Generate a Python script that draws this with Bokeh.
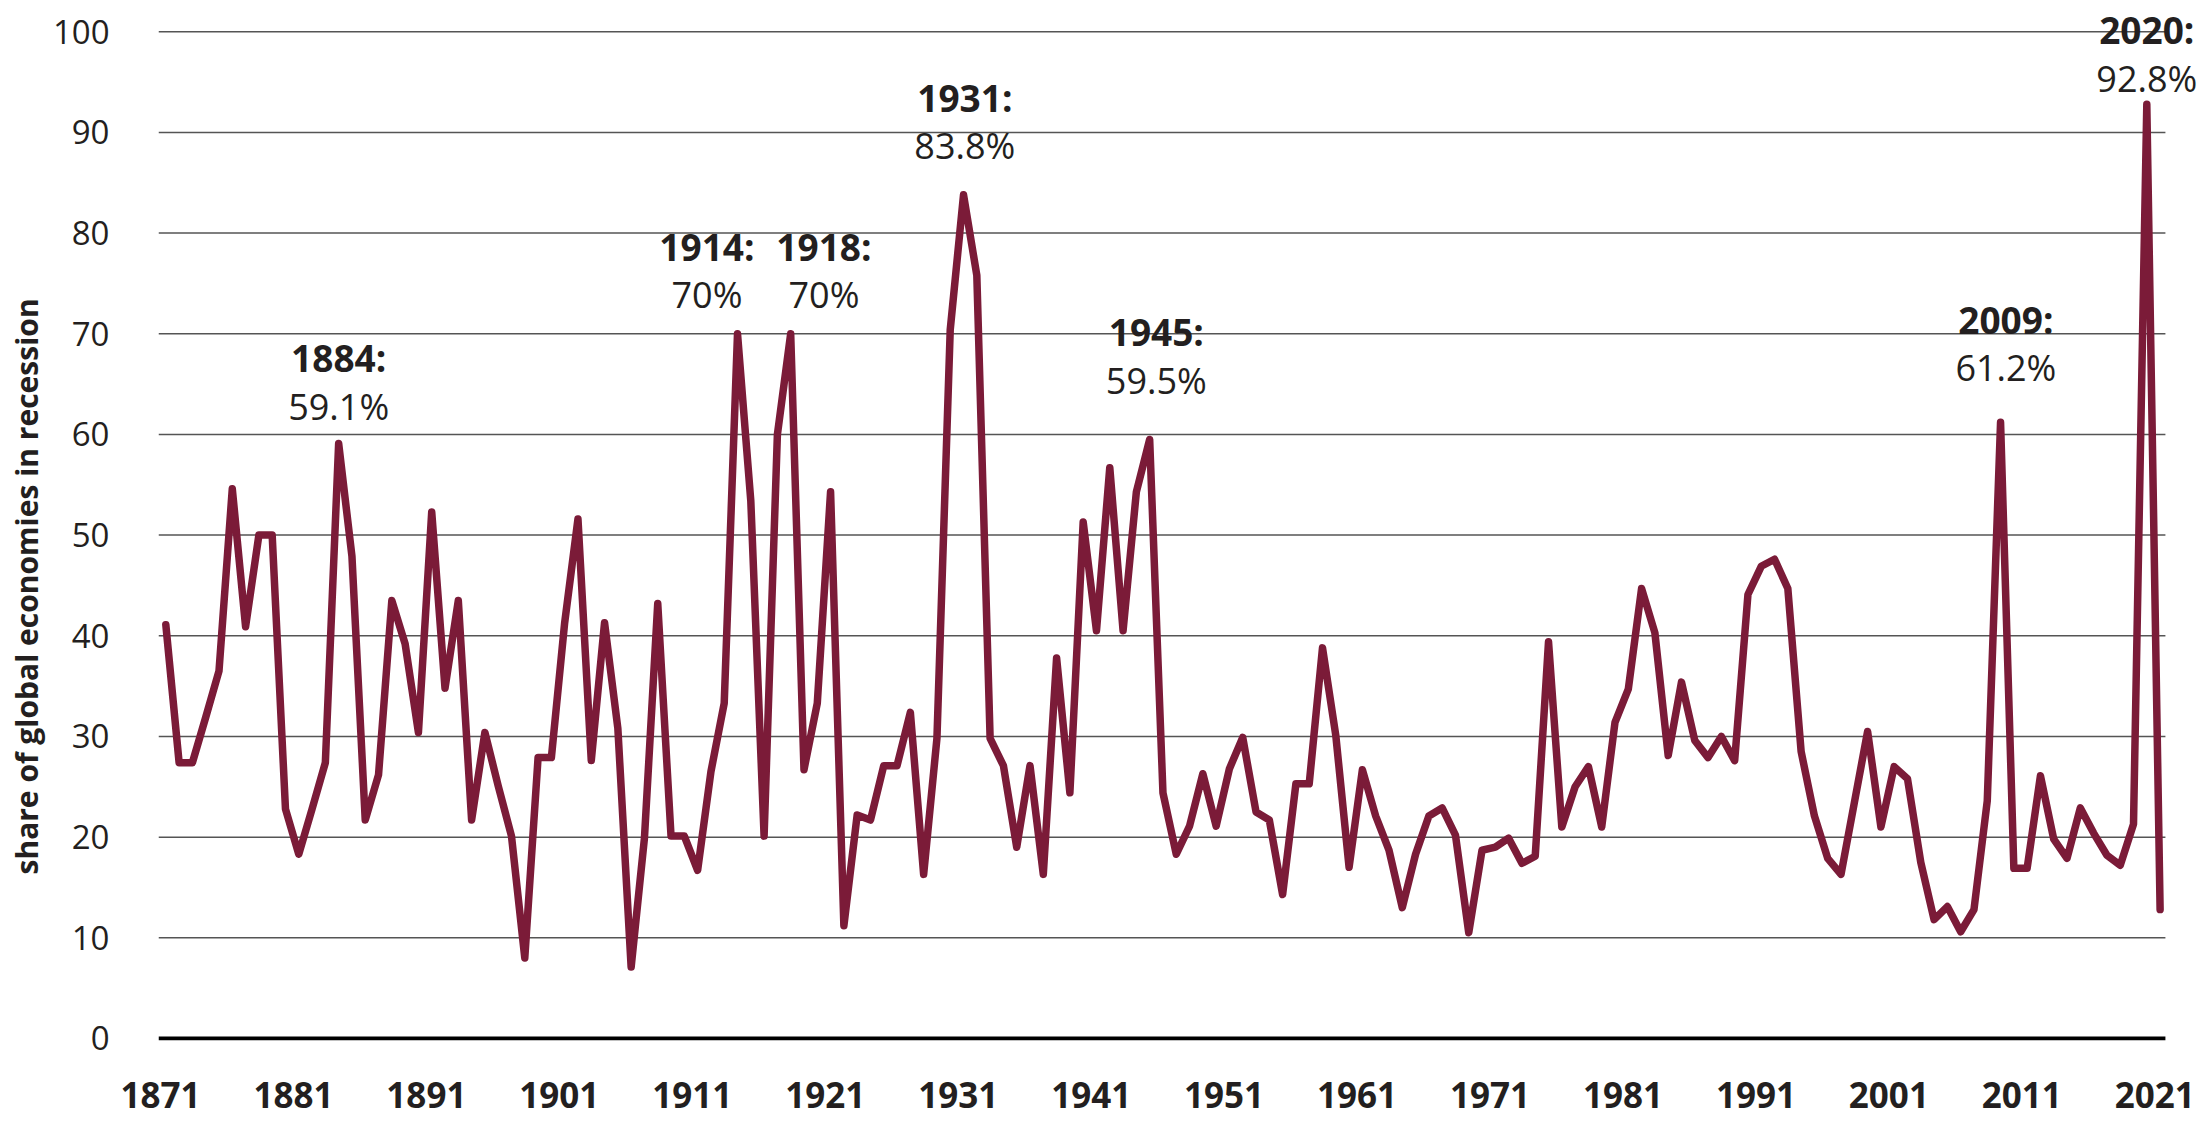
from bokeh.plotting import figure
from bokeh.models import ColumnDataSource, FixedTicker, Title, CustomJSTickFormatter
from bokeh.core.properties import value
from bokeh.embed import file_html
from bokeh.resources import INLINE

# ---------------- data ----------------
years = list(range(1871, 2022))
share = [
    41.1, 27.4, 27.4, 31.9, 36.5, 54.6, 40.9, 50.0, 50.0, 22.8,  # 1871-1880
    18.3, 22.8, 27.4, 59.1, 47.9, 21.7, 26.2, 43.5, 39.2, 30.4,  # 1881-1890
    52.3, 34.8, 43.5, 21.7, 30.4, 25.1, 20.1, 8.0, 27.9, 27.9,   # 1891-1900
    41.3, 51.6, 27.6, 41.3, 30.8, 7.1, 19.9, 43.2, 20.1, 20.1,   # 1901-1910
    16.7, 26.5, 33.3, 70.0, 53.4, 20.1, 60.0, 70.0, 26.7, 33.3,  # 1911-1920
    54.3, 11.2, 22.2, 21.7, 27.1, 27.1, 32.4, 16.3, 29.8, 70.4,  # 1921-1930
    83.8, 75.8, 29.8, 27.1, 19.0, 27.1, 16.3, 37.8, 24.4, 51.3,  # 1931-1940
    40.5, 56.7, 40.5, 54.3, 59.5, 24.4, 18.3, 21.1, 26.3, 21.1,  # 1941-1950
    26.8, 29.9, 22.5, 21.7, 14.3, 25.3, 25.3, 38.8, 30.1, 17.0,  # 1951-1960
    26.7, 22.1, 18.7, 13.0, 18.3, 22.1, 22.9, 20.2, 10.5, 18.7,  # 1961-1970
    19.0, 19.9, 17.4, 18.1, 39.4, 21.0, 25.0, 27.0, 21.0, 31.4,  # 1971-1980
    34.7, 44.7, 40.3, 28.1, 35.4, 29.6, 27.9, 30.0, 27.6, 44.1,  # 1981-1990
    46.9, 47.6, 44.7, 28.5, 22.1, 17.9, 16.3, 23.4, 30.5, 21.0,  # 1991-2000
    27.0, 25.8, 17.5, 11.8, 13.1, 10.6, 12.8, 23.6, 61.2, 16.9,  # 2001-2010
    16.9, 26.1, 19.8, 17.9, 22.9, 20.4, 18.2, 17.2, 21.3, 92.8,  # 2011-2020
    12.8,                                                        # 2021
]
x_tick_years = [1871, 1881, 1891, 1901, 1911, 1921, 1931, 1941, 1951,
                1961, 1971, 1981, 1991, 2001, 2011, 2021]
y_ticks = [0, 10, 20, 30, 40, 50, 60, 70, 80, 90, 100]
y_title = "share of global economies in recession"

# annotated peaks
ann_years = [1884, 1914, 1918, 1931, 1945, 2009, 2020]

# ---------------- layout / style ----------------
X_LO, X_HI = 1870.45, 2024.49      # frame spans to the right canvas edge so labels are not clipped
GRID_X_END = 2021.4                # where gridlines / zero line stop
Y_LO, Y_HI = -0.2, 103.1
ann_dx = {1884: 0.0, 1914: -2.3, 1918: 2.5, 1931: 0.1, 1945: 0.5, 2009: 0.4, 2020: 0.0}
ann_dy = {1884: 3.7, 1914: 3.9, 1918: 3.9, 1931: 4.9, 1945: 5.9, 2009: 5.4, 2020: 2.6}
line_gap = 4.8
tick_shift = 0.4
LINE_COLOR = "#7B1B38"
TEXT_COLOR = "#231F20"
GRID_COLOR = "#555555"
FONT = "Open Sans"

src = ColumnDataSource(data=dict(year=years, share=share))

p = figure(width=2206, height=1123, output_backend="svg", toolbar_location=None,
           x_range=(X_LO, X_HI), y_range=(Y_LO, Y_HI),
           min_border_left=158, min_border_right=0,
           min_border_top=0, min_border_bottom=83)
p.outline_line_color = None
p.background_fill_color = "white"
p.border_fill_color = "white"
p.xgrid.grid_line_color = None
p.ygrid.grid_line_color = None

# horizontal gridlines and the zero baseline
grid_vals = [t for t in y_ticks if t > 0]
grid_src = ColumnDataSource(data=dict(y=grid_vals,
                                      x0=[X_LO] * len(grid_vals),
                                      x1=[GRID_X_END] * len(grid_vals)))
p.segment(x0="x0", y0="y", x1="x1", y1="y", source=grid_src,
          line_color=GRID_COLOR, line_width=1.5)
p.segment(x0=[X_LO], y0=[0], x1=[GRID_X_END], y1=[0], line_color="black", line_width=4)

p.line("year", "share", source=src, line_color=LINE_COLOR, line_width=7.5,
       line_join="round", line_cap="round")

# annotations
lab_x, lab_y_year, lab_y_val, lab_year_txt, lab_val_txt = [], [], [], [], []
for yr in ann_years:
    v = share[years.index(yr)]
    lab_x.append(yr + ann_dx[yr])
    lab_y_val.append(v + ann_dy[yr])
    lab_y_year.append(v + ann_dy[yr] + line_gap)
    lab_year_txt.append(f"{yr}:")
    s = ("%.1f" % v).rstrip("0").rstrip(".")
    lab_val_txt.append(s + "%")

ann_src = ColumnDataSource(data=dict(x=lab_x, yy=lab_y_year, yv=lab_y_val,
                                     ty=lab_year_txt, tv=lab_val_txt))
p.text(x="x", y="yy", text="ty", source=ann_src, text_font=value(FONT),
       text_font_style="bold", text_font_size="37px", text_color=TEXT_COLOR,
       text_align="center", text_baseline="alphabetic")
p.text(x="x", y="yv", text="tv", source=ann_src, text_font=value(FONT),
       text_font_style="normal", text_font_size="36px", text_color=TEXT_COLOR,
       text_align="center", text_baseline="alphabetic")

# y-axis title (left panel, anchored toward the bottom like the reference)
p.add_layout(Title(text=y_title, align="left", offset=166, standoff=5,
                   text_font=FONT, text_font_style="bold", text_font_size="30px",
                   text_color=TEXT_COLOR), "left")

# axes
p.xaxis.ticker = FixedTicker(ticks=[t - tick_shift for t in x_tick_years])
p.xaxis.formatter = CustomJSTickFormatter(args=dict(shift=tick_shift),
                                          code="return Math.round(tick + shift).toString();")
p.xaxis.axis_line_color = None
p.xaxis.major_tick_line_color = None
p.xaxis.minor_tick_line_color = None
p.xaxis.major_label_text_font = FONT
p.xaxis.major_label_text_font_style = "bold"
p.xaxis.major_label_text_font_size = "35px"
p.xaxis.major_label_text_color = TEXT_COLOR
p.xaxis.major_label_standoff = 35

p.yaxis.ticker = FixedTicker(ticks=y_ticks)
p.yaxis.axis_line_color = None
p.yaxis.major_tick_line_color = None
p.yaxis.minor_tick_line_color = None
p.yaxis.major_label_text_font = FONT
p.yaxis.major_label_text_font_size = "33px"
p.yaxis.major_label_text_color = TEXT_COLOR
p.yaxis.major_label_standoff = 43

open("out.html", "w").write(file_html(p, INLINE))
